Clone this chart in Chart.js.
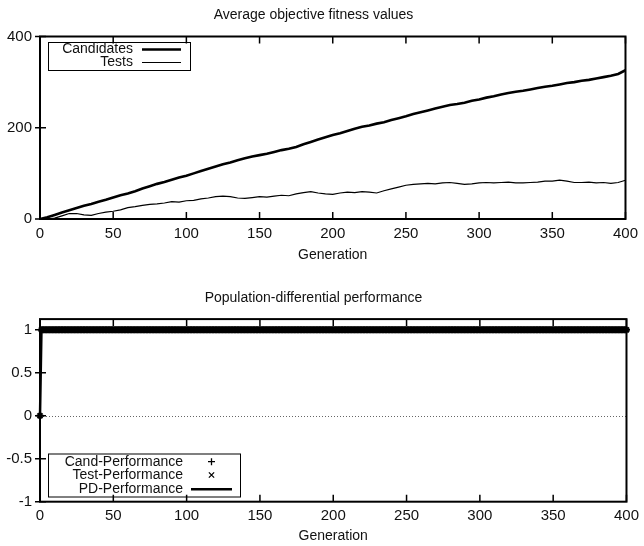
<!DOCTYPE html>
<html lang="en">
<head>
<meta charset="UTF-8">
<title>Fitness and population-differential performance</title>
<script src="https://cdn.jsdelivr.net/npm/chart.js@4.4.1/dist/chart.umd.min.js"></script>
<style>
  html, body { margin: 0; padding: 0; background: #fff; }
  .panel { position: relative; width: 644px; height: 273px; }
</style>
</head>
<body>
<div class="panel"><canvas id="fitness"></canvas></div>
<div class="panel"><canvas id="performance"></canvas></div>
<script>
// Average objective fitness, one sample every 5 generations
const generations = [
  0, 5, 10, 15, 20, 25, 30, 35, 40, 45,
  50, 55, 60, 65, 70, 75, 80, 85, 90, 95,
  100, 105, 110, 115, 120, 125, 130, 135, 140, 145,
  150, 155, 160, 165, 170, 175, 180, 185, 190, 195,
  200, 205, 210, 215, 220, 225, 230, 235, 240, 245,
  250, 255, 260, 265, 270, 275, 280, 285, 290, 295,
  300, 305, 310, 315, 320, 325, 330, 335, 340, 345,
  350, 355, 360, 365, 370, 375, 380, 385, 390, 395,
  400
];
const candidates = [
  0, 4, 9, 14, 19, 24, 29, 33, 38, 42,
  47, 52, 56, 61, 67, 72, 77, 81, 86, 91,
  95, 100, 105, 110, 115, 120, 124, 129, 133, 137,
  140, 143, 147, 151, 154, 158, 164, 169, 174, 179,
  184, 188, 193, 198, 202, 205, 209, 212, 217, 221,
  225, 230, 234, 238, 242, 246, 250, 252, 255, 259,
  262, 266, 269, 273, 276, 279, 281, 284, 287, 290,
  292, 295, 298, 300, 303, 305, 308, 311, 314, 318,
  326
];
const tests = [
  0, 0, 2, 7, 12, 12, 9, 8, 12, 15,
  17, 20, 25, 27, 30, 32, 33, 35, 38, 37,
  40, 41, 44, 46, 49, 50, 49, 46, 45, 47,
  49, 48, 50, 52, 51, 55, 58, 60, 57, 55,
  54, 57, 59, 58, 60, 59, 57, 62, 66, 70,
  74, 76, 77, 78, 77, 79, 80, 78, 76, 77,
  79, 80, 79, 80, 81, 79, 79, 80, 81, 83,
  83, 85, 83, 80, 80, 81, 79, 80, 78, 80,
  85
];

// Performance per generation as runs: [first generation, last generation, value]
const candPerfRuns = [[0, 0, 0], [1, 400, 1]];
const testPerfRuns = [[0, 0, 0], [1, 400, 1]];
const pdPerfRuns = [[0, 0, 0], [1, 400, 1]];

// Tick labels
const generationTicks = [0, 50, 100, 150, 200, 250, 300, 350, 400];
const fitnessTicks = [0, 200, 400];
const performanceTicks = [-1, -0.5, 0, 0.5, 1];

const FONT = '"Liberation Sans", Arial, Helvetica, sans-serif';
const INK = '#111';

function toPoints(xs, ys) {
  return xs.map((x, i) => ({ x, y: ys[i] }));
}

function expandRuns(runs) {
  const points = [];
  runs.forEach(([from, to, value]) => {
    for (let g = from; g <= to; g++) points.push({ x: g, y: value });
  });
  return points;
}

function drawMarker(ctx, kind, x, y, r) {
  ctx.beginPath();
  if (kind === 'cross') {
    ctx.moveTo(x - r, y); ctx.lineTo(x + r, y);
    ctx.moveTo(x, y - r); ctx.lineTo(x, y + r);
  } else {
    const d = r * 0.75;
    ctx.moveTo(x - d, y - d); ctx.lineTo(x + d, y + d);
    ctx.moveTo(x - d, y + d); ctx.lineTo(x + d, y - d);
  }
  ctx.stroke();
}

// gnuplot-like frame: inward ticks, heavy border, boxed legend, dotted zero axis
const gnuplotFrame = {
  id: 'gnuplotFrame',
  beforeDatasetsDraw(chart, args, opts) {
    if (!opts.zeroAxis) return;
    const { ctx, chartArea: a, scales } = chart;
    const py = Math.round(scales.y.getPixelForValue(0)) + 0.5;
    ctx.save();
    ctx.strokeStyle = '#666';
    ctx.lineWidth = 1;
    ctx.setLineDash([1, 2]);
    ctx.beginPath();
    ctx.moveTo(a.left, py);
    ctx.lineTo(a.right, py);
    ctx.stroke();
    ctx.restore();
  },
  afterDraw(chart, args, opts) {
    const { ctx, chartArea: a, scales } = chart;
    ctx.save();
    ctx.strokeStyle = '#000';
    ctx.lineWidth = 1.5;
    ctx.beginPath();
    scales.x.ticks.forEach(t => {
      const px = scales.x.getPixelForValue(t.value);
      ctx.moveTo(px, a.bottom); ctx.lineTo(px, a.bottom - 7);
      ctx.moveTo(px, a.top); ctx.lineTo(px, a.top + 7);
    });
    scales.y.ticks.forEach(t => {
      const py = scales.y.getPixelForValue(t.value);
      ctx.moveTo(a.left - 5, py); ctx.lineTo(a.left + 6, py);
    });
    ctx.stroke();

    ctx.lineWidth = 2;
    ctx.strokeRect(a.left, a.top, a.right - a.left, a.bottom - a.top);

    const lg = opts.legend;
    if (lg) {
      ctx.lineWidth = 1;
      ctx.strokeRect(lg.box[0] + 0.5, lg.box[1] + 0.5, lg.box[2] - lg.box[0], lg.box[3] - lg.box[1]);
      ctx.font = '14px ' + FONT;
      ctx.fillStyle = INK;
      ctx.textAlign = 'right';
      ctx.textBaseline = 'middle';
      chart.data.datasets.forEach((ds, i) => {
        const y = lg.rows[i];
        ctx.fillText(ds.label, lg.textRight, y);
        if (ds.legendKind === 'line') {
          ctx.lineWidth = ds.borderWidth;
          ctx.beginPath();
          ctx.moveTo(lg.sample[0], y);
          ctx.lineTo(lg.sample[1], y);
          ctx.stroke();
        } else {
          ctx.lineWidth = 1.3;
          drawMarker(ctx, ds.legendKind, (lg.sample[0] + lg.sample[1]) / 2, y, 3.5);
        }
      });
    }
    ctx.restore();
  }
};

function baseOptions(cfg) {
  return {
    responsive: true,
    maintainAspectRatio: false,
    animation: false,
    devicePixelRatio: 1,
    layout: { padding: { left: 0, right: 17, top: 0, bottom: 0 } },
    plugins: {
      legend: { display: false },
      tooltip: { enabled: false },
      title: {
        display: true,
        text: cfg.title,
        color: INK,
        font: { family: FONT, size: 14, weight: 'normal', lineHeight: 1.2 },
        padding: cfg.titlePadding
      },
      gnuplotFrame: { legend: cfg.legend, zeroAxis: cfg.zeroAxis }
    },
    scales: {
      x: {
        type: 'linear',
        min: 0,
        max: 400,
        grid: { display: false, drawTicks: false },
        border: { display: false },
        afterBuildTicks: s => { s.ticks = generationTicks.map(value => ({ value })); },
        afterFit: s => { s.height = cfg.xHeight; },
        ticks: {
          color: INK,
          padding: cfg.xTickPad,
          maxRotation: 0,
          font: { family: FONT, size: 15 },
          callback: v => String(v)
        },
        title: {
          display: true,
          text: 'Generation',
          color: INK,
          font: { family: FONT, size: 14, lineHeight: 1.2 },
          padding: { top: 0, bottom: cfg.xTitlePad }
        }
      },
      y: {
        min: cfg.yMin,
        max: cfg.yMax,
        grid: { display: false, drawTicks: false },
        border: { display: false },
        afterBuildTicks: s => { s.ticks = cfg.yTicks.map(value => ({ value })); },
        afterFit: s => { s.width = 40; },
        ticks: {
          color: INK,
          padding: 8,
          font: { family: FONT, size: 15 },
          callback: v => String(v)
        }
      }
    }
  };
}

new Chart(document.getElementById('fitness'), {
  type: 'line',
  data: {
    datasets: [
      {
        label: 'Candidates',
        data: toPoints(generations, candidates),
        borderColor: '#000',
        borderWidth: 2.6,
        pointRadius: 0,
        tension: 0,
        legendKind: 'line'
      },
      {
        label: 'Tests',
        data: toPoints(generations, tests),
        borderColor: '#000',
        borderWidth: 1.2,
        pointRadius: 0,
        tension: 0,
        legendKind: 'line'
      }
    ]
  },
  options: baseOptions({
    title: 'Average objective fitness values',
    titlePadding: { top: 6.6, bottom: 13.1 },
    xHeight: 54,
    xTickPad: 6,
    xTitlePad: 9.6,
    yMin: 0,
    yMax: 400,
    yTicks: fitnessTicks,
    legend: { box: [48, 42, 190, 70], rows: [49.5, 62.5], textRight: 133, sample: [142, 181] }
  }),
  plugins: [gnuplotFrame]
});

new Chart(document.getElementById('performance'), {
  type: 'line',
  data: {
    datasets: [
      {
        label: 'Cand-Performance',
        data: expandRuns(candPerfRuns),
        showLine: false,
        pointStyle: 'cross',
        pointRadius: 3.5,
        pointBorderWidth: 2,
        pointBorderColor: '#000',
        borderColor: '#000',
        clip: false,
        legendKind: 'cross'
      },
      {
        label: 'Test-Performance',
        data: expandRuns(testPerfRuns),
        showLine: false,
        pointStyle: 'crossRot',
        pointRadius: 3.5,
        pointBorderWidth: 2,
        pointBorderColor: '#000',
        borderColor: '#000',
        clip: false,
        legendKind: 'crossRot'
      },
      {
        label: 'PD-Performance',
        data: expandRuns(pdPerfRuns),
        borderColor: '#000',
        borderWidth: 2.5,
        pointRadius: 0,
        tension: 0,
        clip: false,
        legendKind: 'line'
      }
    ]
  },
  options: baseOptions({
    title: 'Population-differential performance',
    titlePadding: { top: 16.9, bottom: 12.4 },
    xHeight: 44.3,
    xTickPad: 5,
    xTitlePad: 1.6,
    yMin: -1,
    yMax: 1.125,
    yTicks: performanceTicks,
    zeroAxis: true,
    legend: { box: [48, 180.5, 240, 223.5], rows: [188.7, 202, 216.3], textRight: 183, sample: [191, 232] }
  }),
  plugins: [gnuplotFrame]
});
</script>
</body>
</html>
